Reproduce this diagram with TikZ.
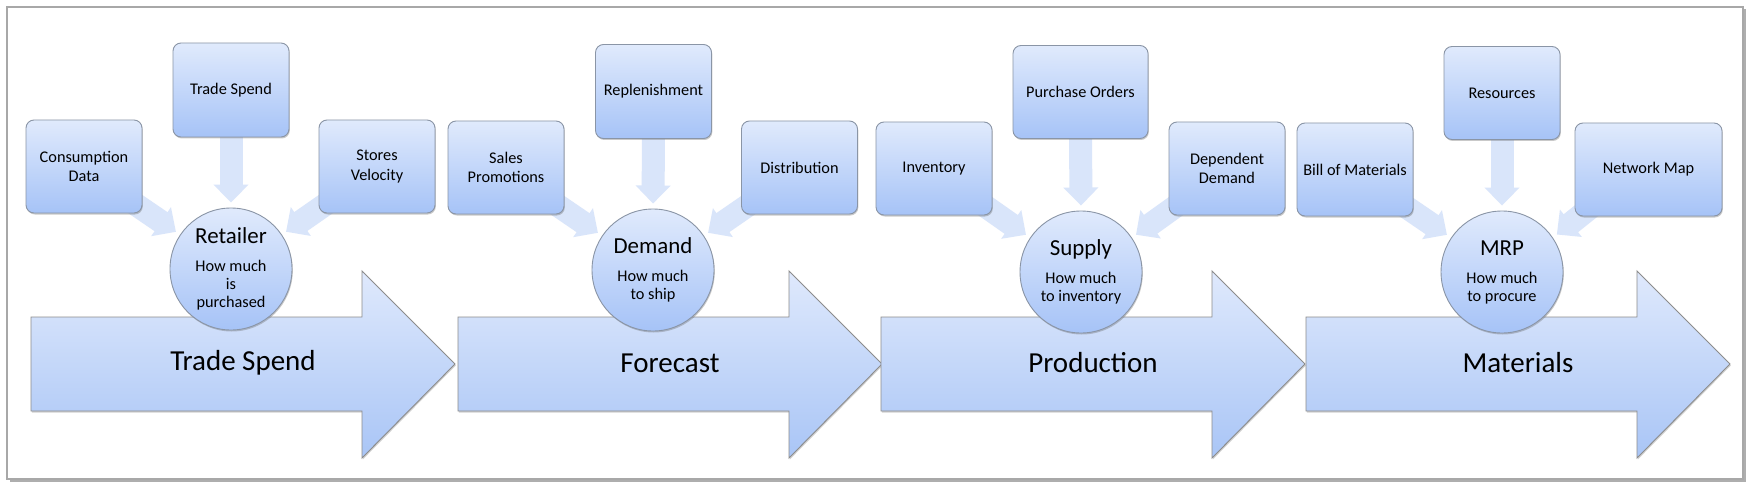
\documentclass[tikz,border=0pt]{standalone}
\usepackage{fontspec}
\setmainfont{Carlito}
\usetikzlibrary{arrows.meta,shadows,calc}
\definecolor{boxtop}{HTML}{E0EAFC}
\definecolor{boxbot}{HTML}{A6C3F7}
\definecolor{boxedge}{HTML}{8A95A6}
\definecolor{arrtop}{HTML}{DFE9FC}
\definecolor{arrbot}{HTML}{A9C5F6}
\definecolor{arredge}{HTML}{8C8C8C}
\definecolor{conn}{HTML}{D9E5FA}
\definecolor{framecol}{HTML}{A8A8A8}
\tikzset{
  inbox/.style={draw=boxedge, line width=0.9pt, rounded corners=8pt, top color=boxtop, bottom color=boxbot,
    minimum width=116pt, minimum height=93pt, align=center, inner sep=2pt,
    font=\fontsize{16.3}{19.5}\selectfont,
    drop shadow={shadow xshift=0.8pt, shadow yshift=-1.5pt, opacity=0.35, fill=black!60}},
  hub/.style={circle, draw=boxedge, line width=0.9pt, top color=boxtop, bottom color=boxbot,
    minimum size=122pt, inner sep=0pt, align=center,
    font=\fontsize{16.3}{18}\selectfont,
    drop shadow={shadow xshift=0.8pt, shadow yshift=-1.5pt, opacity=0.35, fill=black!60}},
  bigarrow/.style={draw=arredge, line width=0.9pt, top color=arrtop, bottom color=arrbot,
    drop shadow={shadow xshift=0.8pt, shadow yshift=-1.5pt, opacity=0.3, fill=black!60}},
  biglabel/.style={font=\fontsize{29}{34}\selectfont, inner sep=0pt},
  feed/.style={draw=conn, line width=23pt, -{Triangle[length=18pt,width=34pt]}, shorten >=5pt},
}
\newcommand{\hubtext}[2]{{\fontsize{22.9}{22.9}\selectfont #1}\\[10pt]#2}
\begin{document}
\begin{tikzpicture}[x=1pt,y=-1pt]
\useasboundingbox (0,0) rectangle (1753,492);
% frame
\draw[framecol, line width=1.2pt, fill=white,
  drop shadow={shadow xshift=2.5pt, shadow yshift=-2.5pt, opacity=0.45, fill=black!70}]
  (7,7) rectangle (1743,479);

% big arrows
\foreach \L/\nm/\txt in {31/a1/Trade Spend, 458/a2/Forecast, 881/a3/Production, 1306/a4/Materials}{
  \path[bigarrow] (\L,317) -- (\L+331,317) -- (\L+331,271) -- (\L+424,364) -- (\L+331,458)
     -- (\L+331,411) -- (\L,411) -- cycle;
  \node[biglabel] (\nm) at (\L+212,363) {\txt};
}

% hubs
\node[hub] (retailer) at (231,269) {\hubtext{Retailer}{How much\\is\\purchased}};
\node[hub] (demand) at (653,270) {\hubtext{Demand}{How much\\to ship}};
\node[hub] (supply) at (1081,272) {\hubtext{Supply}{How much\\to inventory}};
\node[hub] (mrp) at (1502,272) {\hubtext{MRP}{How much\\to procure}};

% boxes (positions)
\coordinate (p-cd) at (84,166.5);
\coordinate (p-ts) at (231,90);
\coordinate (p-sv) at (377,166.5);
\coordinate (p-sp) at (506,167.5);
\coordinate (p-rep) at (653.5,91.5);
\coordinate (p-dist) at (799.5,167.5);
\coordinate (p-inv) at (934,168.5);
\coordinate (p-po) at (1080.5,92);
\coordinate (p-dd) at (1227,168.5);
\coordinate (p-bom) at (1355,169.5);
\coordinate (p-res) at (1502,93);
\coordinate (p-nm) at (1648.5,169.5);

% feed arrows (drawn first, boxes go over their starts)
\draw[feed] ($(p-ts)+(0,40)$) -- (retailer.north);
\draw[feed] ($(p-cd)+(46,34)$) -- (retailer.146);
\draw[feed] ($(p-sv)+(-46,34)$) -- (retailer.34);
\draw[feed] ($(p-rep)+(0,40)$) -- (demand.north);
\draw[feed] ($(p-sp)+(46,34)$) -- (demand.146);
\draw[feed] ($(p-dist)+(-46,34)$) -- (demand.34);
\draw[feed] ($(p-po)+(0,40)$) -- (supply.north);
\draw[feed] ($(p-inv)+(46,34)$) -- (supply.146);
\draw[feed] ($(p-dd)+(-46,34)$) -- (supply.34);
\draw[feed] ($(p-res)+(0,40)$) -- (mrp.north);
\draw[feed] ($(p-bom)+(46,34)$) -- (mrp.146);
\draw[feed] ($(p-nm)+(-53,34)$) -- (mrp.34);

% boxes
\node[inbox] (cd) at (p-cd) {Consumption\\Data};
\node[inbox, minimum height=94pt] (ts) at (p-ts) {Trade Spend};
\node[inbox] (sv) at (p-sv) {Stores\\Velocity};
\node[inbox] (sp) at (p-sp) {Sales\\Promotions};
\node[inbox, minimum height=94pt] (rep) at (p-rep) {Replenishment};
\node[inbox] (dist) at (p-dist) {Distribution};
\node[inbox] (inv) at (p-inv) {Inventory};
\node[inbox, minimum width=135pt, minimum height=93pt] (po) at (p-po) {Purchase Orders};
\node[inbox] (dd) at (p-dd) {Dependent\\Demand};
\node[inbox] (bom) at (p-bom) {Bill of Materials};
\node[inbox, minimum height=93pt] (res) at (p-res) {Resources};
\node[inbox, minimum width=147pt] (nm) at (p-nm) {Network Map};
\end{tikzpicture}
\end{document}
